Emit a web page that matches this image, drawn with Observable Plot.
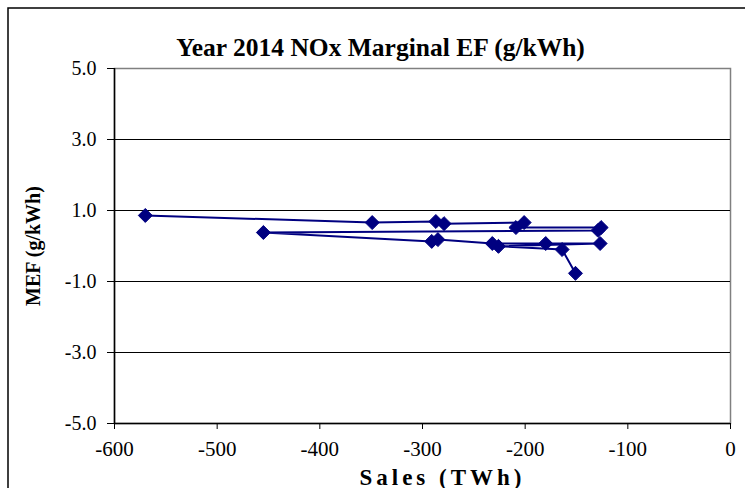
<!DOCTYPE html>
<html>
<head>
<meta charset="utf-8">
<script src="https://cdn.jsdelivr.net/npm/d3@7"></script>
<script src="https://cdn.jsdelivr.net/npm/@observablehq/plot@0.6"></script>
<style>
  html, body { margin: 0; padding: 0; background: #fff; }
  #chart svg { display: block; }
  #chart svg, #chart svg text { font-family: "Liberation Serif", "Times New Roman", Times, serif !important; }
</style>
</head>
<body>
<div id="chart"></div>
<script>
const title = "Year 2014 NOx Marginal EF (g/kWh)";
const xLabel = "Sales (TWh)";
const yLabel = "MEF (g/kWh)";

// Points in drawing (connection) order
const sales = [-570, -349, -287, -279, -201, -209, -126, -129, -455, -291, -285, -232, -180, -127, -226, -164, -151];
const mef   = [0.86, 0.66, 0.69, 0.63, 0.66, 0.52, 0.52, 0.44, 0.38, 0.13, 0.18, 0.07, 0.07, 0.07, -0.01, -0.10, -0.77];

const xTicks = [-600, -500, -400, -300, -200, -100, 0];
const yTicks = [5, 3, 1, -1, -3, -5];
const gridY = [3, 1, -1, -3];

const data = sales.map((s, i) => ({sales: s, mef: mef[i]}));
const navy = "#000080";
const serif = "Liberation Serif";

const chart = Plot.plot({
  width: 745,
  height: 488,
  marginLeft: 114,
  marginRight: 15,
  marginTop: 68,
  marginBottom: 65,
  style: {fontSize: "20px", color: "#000", background: "#fff"},
  x: {domain: [-600, 0], label: null},
  y: {domain: [-5, 5], label: null},
  marks: [
    Plot.frame({stroke: "#808080", strokeWidth: 1.5}),
    Plot.ruleY(gridY, {stroke: "#000", strokeWidth: 1}),
    Plot.ruleX([-600], {stroke: "#000", strokeWidth: 1.5}),
    Plot.ruleY([-5], {stroke: "#000", strokeWidth: 1.5}),
    Plot.axisY({ticks: yTicks, tickSize: 7, tickPadding: 11, tickFormat: d => d.toFixed(1), label: null, fontSize: 20, fontFamily: serif, stroke: "#000"}),
    Plot.axisX({ticks: xTicks, tickSize: 6, tickPadding: 12, tickFormat: d => String(d), label: null, fontSize: 21, fontFamily: serif, stroke: "#000"}),
    Plot.line(data, {x: "sales", y: "mef", stroke: navy, strokeWidth: 2}),
    Plot.dot(data, {x: "sales", y: "mef", symbol: "diamond2", r: 6.3, fill: navy, stroke: navy, strokeWidth: 1}),
    Plot.text([title], {frameAnchor: "top", dx: -42, dy: -13, lineAnchor: "bottom", fontSize: 25.5, fontWeight: "bold", fontFamily: serif, fill: "#000"}),
    Plot.text([xLabel], {frameAnchor: "bottom", dx: 20, dy: 61, lineAnchor: "bottom", textAnchor: "middle", fontSize: 23, fontWeight: "bold", fontFamily: serif, fill: "#000"}),
    Plot.text([yLabel], {frameAnchor: "left", dx: -81, rotate: -90, textAnchor: "middle", fontSize: 20, fontWeight: "bold", fontFamily: serif, fill: "#000"})
  ]
});

// letter-spaced x-axis label, as in the reference
d3.select(chart).selectAll("text")
  .filter(function() { return this.textContent === xLabel; })
  .style("letter-spacing", "4px");

// outer chart-area border (extends past right/bottom edges as in the reference)
d3.select(chart).insert("rect", ":first-child")
  .attr("x", 8).attr("y", 8).attr("width", 800).attr("height", 800)
  .attr("fill", "none").attr("stroke", "#000").attr("stroke-width", 1.5);

document.getElementById("chart").appendChild(chart);
</script>
</body>
</html>
